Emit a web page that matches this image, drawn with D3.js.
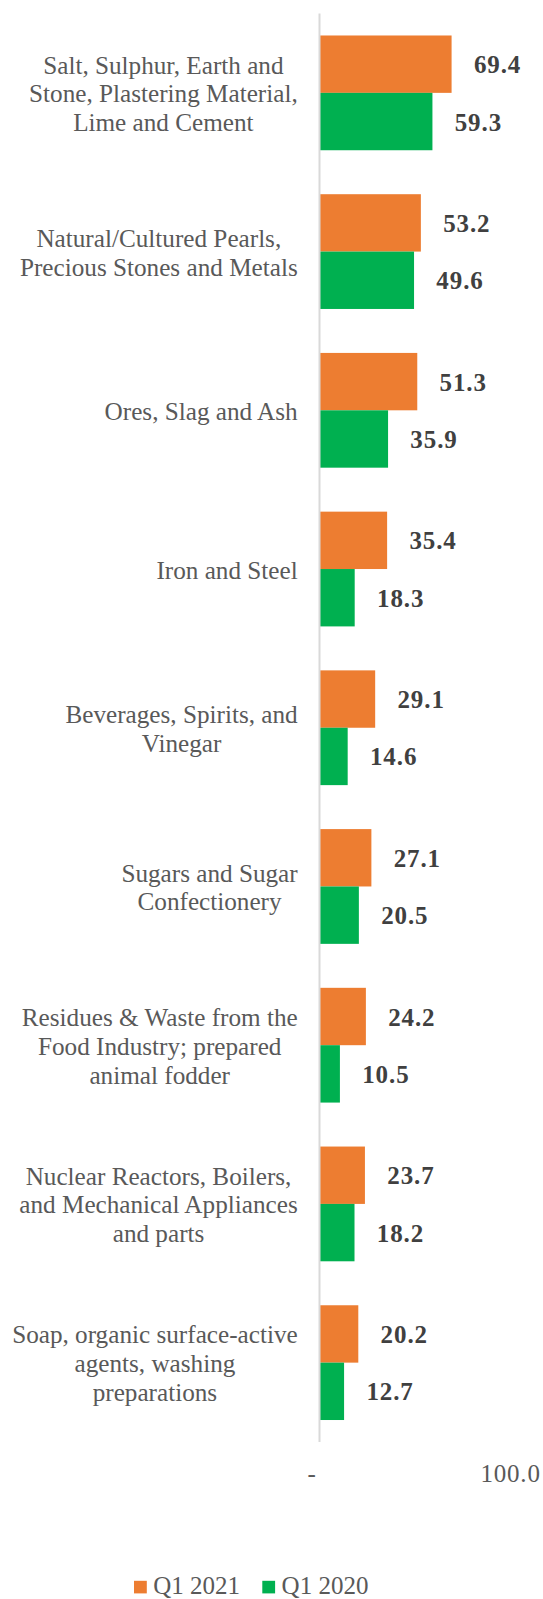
<!DOCTYPE html>
<html>
<head>
<meta charset="utf-8">
<script src="https://cdn.jsdelivr.net/npm/d3@7"></script>
<style>
html,body{margin:0;padding:0;background:#fff;}
svg{display:block;}
</style>
</head>
<body>
<svg id="chart" width="543" height="1599"></svg>
<script>
// ---- data ----
const categories = [
  "Salt, Sulphur, Earth and|Stone, Plastering Material,|Lime and Cement",
  "Natural/Cultured Pearls,|Precious Stones and Metals",
  "Ores, Slag and Ash",
  "Iron and Steel",
  "Beverages, Spirits, and|Vinegar",
  "Sugars and Sugar|Confectionery",
  "Residues & Waste from the|Food Industry; prepared|animal fodder",
  "Nuclear Reactors, Boilers,|and Mechanical Appliances|and parts",
  "Soap, organic surface-active|agents, washing|preparations"
];
const q1_2021 = [69.4, 53.2, 51.3, 35.4, 29.1, 27.1, 24.2, 23.7, 20.2];
const q1_2020 = [59.3, 49.6, 35.9, 18.3, 14.6, 20.5, 10.5, 18.2, 12.7];
const seriesNames = ["Q1 2021", "Q1 2020"];
const seriesColors = ["#ED7D31", "#00B050"];
const xTicks = [0, 100];
const xTickLabels = ["-", "100.0"];

// ---- layout ----
const svg = d3.select("#chart");
const FONT = "'Liberation Serif', 'DejaVu Serif', serif";
const x = d3.scaleLinear().domain([0, 100]).range([320, 509.6]);
const y = d3.scaleBand().domain(d3.range(categories.length)).range([13.5, 1442])
  .paddingInner(0.277).paddingOuter(0.1385);
const sub = d3.scaleBand().domain([0, 1]).range([0, y.bandwidth()]);
const series = [q1_2021, q1_2020];

// bars
series.forEach((vals, s) => {
  svg.append("g").selectAll("rect").data(vals).join("rect")
    .attr("x", x(0))
    .attr("y", (d, i) => y(i) + sub(s))
    .attr("width", d => x(d) - x(0))
    .attr("height", sub.bandwidth())
    .attr("fill", seriesColors[s]);
  svg.append("g").selectAll("text").data(vals).join("text")
    .attr("x", d => x(d) + 22.3)
    .attr("y", (d, i) => y(i) + sub(s) + sub.bandwidth() / 2)
    .attr("dy", "0.36em")
    .attr("font-family", FONT)
    .attr("font-weight", "bold")
    .attr("font-size", 25)
    .attr("letter-spacing", 0.9)
    .attr("fill", "#404040")
    .text(d => d.toFixed(1));
});

// axis line
svg.append("line")
  .attr("x1", x(0) - 0.5).attr("x2", x(0) - 0.5)
  .attr("y1", y.range()[0]).attr("y2", y.range()[1])
  .attr("stroke", "#D9D9D9").attr("stroke-width", 2);

// category labels
const LH = 28.8, labelRight = 297.7;
categories.forEach((c, i) => {
  const lines = c.split("|");
  const g = svg.append("g");
  const cy = y(i) + y.bandwidth() / 2;
  const texts = lines.map((ln, k) => g.append("text")
    .attr("y", cy + (k - (lines.length - 1) / 2) * LH)
    .attr("dy", "0.38em")
    .attr("font-family", FONT)
    .attr("font-size", 25.2)
    .attr("fill", "#595959")
    .attr("text-anchor", "middle")
    .text(ln));
  const w = d3.max(texts, t => t.node().getComputedTextLength());
  texts.forEach(t => t.attr("x", labelRight - w / 2));
});

// x tick labels
svg.append("g").selectAll("text").data(xTicks).join("text")
  .attr("x", (d, i) => i === 0 ? x(d) - 8 : x(d) + 1)
  .attr("y", 1481.7)
  .attr("text-anchor", "middle")
  .attr("font-family", FONT)
  .attr("font-size", 25)
  .attr("letter-spacing", 0.8)
  .attr("fill", "#595959")
  .text((d, i) => xTickLabels[i]);

// legend
const legX = [134, 262.3];
seriesNames.forEach((n, s) => {
  svg.append("rect").attr("x", legX[s]).attr("y", 1580.8).attr("width", 12.8).attr("height", 12.6)
    .attr("fill", seriesColors[s]);
  svg.append("text").attr("x", legX[s] + 19.3).attr("y", 1593.5)
    .attr("font-family", FONT).attr("font-size", 25).attr("fill", "#595959").text(n);
});
</script>
</body>
</html>
